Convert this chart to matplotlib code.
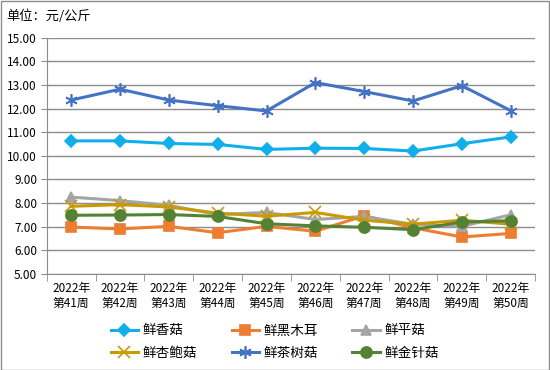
import numpy as np
import matplotlib.pyplot as plt

plt.rcParams['font.family'] = ['Noto Sans CJK SC', 'DejaVu Sans']

# Datos semanales (precio, yuan/kg)
semanas = ['2022年\n第41周', '2022年\n第42周', '2022年\n第43周', '2022年\n第44周', '2022年\n第45周',
           '2022年\n第46周', '2022年\n第47周', '2022年\n第48周', '2022年\n第49周', '2022年\n第50周']
xianggu = [10.63, 10.63, 10.52, 10.48, 10.27, 10.32, 10.31, 10.20, 10.51, 10.80]
heimuer = [6.98, 6.90, 7.01, 6.74, 7.01, 6.80, 7.46, 6.95, 6.56, 6.71]
pinggu = [8.25, 8.10, 7.90, 7.51, 7.60, 7.30, 7.43, 7.09, 7.01, 7.50]
xingbaogu = [7.86, 7.93, 7.83, 7.57, 7.44, 7.60, 7.27, 7.10, 7.27, 7.10]
chashugu = [12.36, 12.82, 12.36, 12.12, 11.90, 13.10, 12.72, 12.32, 12.97, 11.91]
jinzhengu = [7.48, 7.49, 7.51, 7.43, 7.12, 7.03, 6.97, 6.87, 7.19, 7.25]

series = [
    ('鲜香菇', xianggu, '#10AEEB', 'D', 6.5),
    ('鲜黑木耳', heimuer, '#ED7D31', 's', 6.5),
    ('鲜平菇', pinggu, '#A5A5A5', '^', 7.5),
    ('鲜杏鲍菇', xingbaogu, '#C99A06', 'x', 8),
    ('鲜茶树菇', chashugu, '#4472C4', (6, 2, 0), 9),
    ('鲜金针菇', jinzhengu, '#548235', 'o', 8),
]

fig = plt.figure(figsize=(5.5, 3.7), dpi=100)
ax = fig.add_axes([0.085, 0.26, 0.888, 0.638])

x = np.arange(len(semanas))
handles = []
for nombre, valores, color, marcador, tam in series:
    h, = ax.plot(x, valores, color=color, lw=2.2, marker=marcador, ms=tam,
                 mec=color, mfc=color, mew=1.2, label=nombre, zorder=3)
    handles.append(h)

# Ejes y cuadrícula
ax.set_xlim(-0.5, len(semanas) - 0.5)
ax.set_ylim(5, 15)
ax.set_yticks(np.arange(5, 15.01, 1))
ax.set_yticklabels([f'{v:.2f}' for v in np.arange(5, 15.01, 1)], fontsize=8.5)
ax.yaxis.grid(True, color='#8C8C8C', lw=1)
ax.set_axisbelow(True)
for lado in ['top', 'right']:
    ax.spines[lado].set_visible(False)
for lado in ['left', 'bottom']:
    ax.spines[lado].set_color('#8C8C8C')
ax.tick_params(axis='y', color='#8C8C8C', length=4, pad=3)

ax.set_xticks(x)
ax.set_xticklabels(semanas, fontsize=8.5, linespacing=1.2)
ax.tick_params(axis='x', length=0, pad=6)
ax.set_xticks(np.arange(-0.5, len(semanas), 1), minor=True)
ax.tick_params(axis='x', which='minor', length=5, color='#8C8C8C')

fig.text(0.012, 0.955, '单位：元/公斤', fontsize=9.5, va='center')

# Leyenda por filas (matplotlib rellena por columnas)
orden = [0, 3, 1, 4, 2, 5]
fig.legend(handles=[handles[i] for i in orden], loc='lower center', bbox_to_anchor=(0.5, -0.005),
           ncol=3, frameon=False, fontsize=9.8, handlelength=2.0, columnspacing=2.5,
           handletextpad=0.38, labelspacing=0.6)

# Marco exterior
fig.patches.append(plt.Rectangle((0.001, 0.001), 0.997, 0.997, transform=fig.transFigure,
                                 fill=False, ec='#8C8C8C', lw=1))

fig.savefig('out.png', dpi=100)
